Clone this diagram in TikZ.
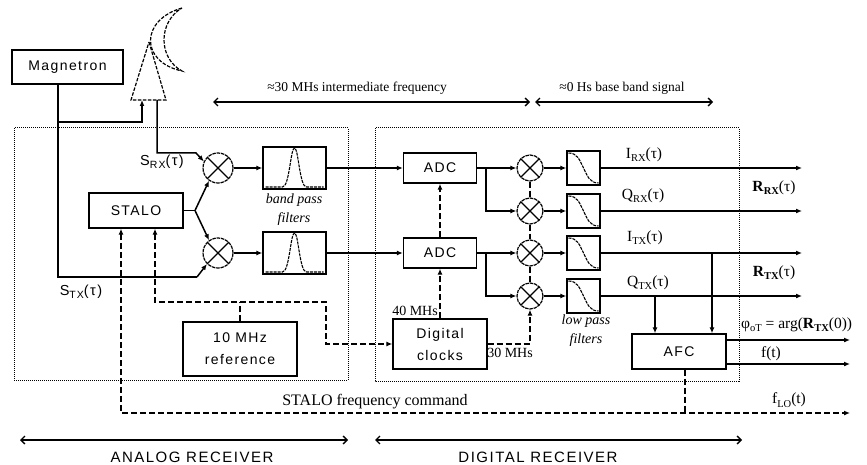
\documentclass[tikz,border=0pt]{standalone}
\usepackage{fontspec}
\setmainfont{Liberation Serif}
\newfontfamily\sansf[LetterSpace=10]{Liberation Sans}
\usetikzlibrary{arrows.meta}
\newcommand\sub[1]{\raisebox{-0.45ex}{\fontsize{10.5}{10.5}\selectfont #1}}
\begin{document}
\begin{tikzpicture}[x=1pt,y=-1pt,
  sig/.style={line width=1.5pt},
  arr/.style={-{Latex[length=6pt,width=5pt]}},
  arrboth/.style={{Latex[length=6pt,width=5pt]}-{Latex[length=6pt,width=5pt]}},
  dsh/.style={line width=1.4pt, dash pattern=on 6pt off 3pt},
  dotframe/.style={line width=1pt, dash pattern=on 1pt off 1pt},
  blk/.style={draw, line width=1.4pt, inner sep=0pt, font=\sansf\fontsize{14}{22}\selectfont, align=center},
  mixer/.style={circle, draw, line width=1.2pt, dash pattern=on 3.5pt off 0.8pt, inner sep=0pt, minimum size=#1,
    path picture={\draw[solid,line width=1.1pt] (path picture bounding box.north west) -- (path picture bounding box.south east)
      (path picture bounding box.north east) -- (path picture bounding box.south west);}},
  fcurve/.style={line width=1.1pt, dash pattern=on 3pt off 1pt},
  ser/.style={font=\fontsize{15.5}{15.5}\selectfont, inner sep=0pt},
  sml/.style={font=\fontsize{13.5}{13.5}\selectfont, inner sep=0pt},
  ital/.style={font=\itshape\fontsize{14}{19}\selectfont, inner sep=0pt, align=center},
  sanslab/.style={font=\sansf\fontsize{14.5}{14.5}\selectfont, inner sep=0pt},
  rangearrow/.style={line width=1.4pt, {Straight Barb[length=4pt,width=8pt]}-{Straight Barb[length=4pt,width=8pt]}},
]
\useasboundingbox (0,0) rectangle (867,465);

% frames
\draw[dotframe] (14,128) rectangle (348,380);
\draw[dotframe] (375,128) rectangle (739,381);

% blocks
\node[blk, minimum width=111pt, minimum height=34pt] (mag) at (67.5,67) {Magnetron};
\node[blk, minimum width=94pt, minimum height=35pt] (stalo) at (136,210.5) {STALO};
\node[mixer=30pt] (mx1) at (218,168) {};
\node[mixer=30pt] (mx2) at (218,253) {};
\node[blk, minimum width=63pt, minimum height=42pt] (bp1) at (294.5,168) {};
\node[blk, minimum width=63pt, minimum height=42pt] (bp2) at (294.5,253) {};
\node[blk, minimum width=73pt, minimum height=30pt] (adc1) at (440,168) {ADC};
\node[blk, minimum width=73pt, minimum height=30pt] (adc2) at (440,253) {ADC};
\node[mixer=26pt] (dm1) at (530,168) {};
\node[mixer=26pt] (dm2) at (530,211) {};
\node[mixer=26pt] (dm3) at (530,253) {};
\node[mixer=26pt] (dm4) at (530,296) {};
\node[blk, minimum width=33pt, minimum height=34pt] (lp1) at (583.5,168) {};
\node[blk, minimum width=33pt, minimum height=34pt] (lp2) at (583.5,211) {};
\node[blk, minimum width=33pt, minimum height=34pt] (lp3) at (583.5,253) {};
\node[blk, minimum width=33pt, minimum height=34pt] (lp4) at (583.5,296) {};
\node[blk, minimum width=94pt, minimum height=50pt] (clk) at (440,344) {Digital\\clocks};
\node[blk, minimum width=114pt, minimum height=54pt] (ref) at (240,349) {10 MHz\\reference};
\node[blk, minimum width=94pt, minimum height=35pt] (afc) at (679,351.5) {AFC};

% filter curves
\foreach \b in {bp1,bp2}{
  \draw[fcurve, shift={(\b.center)}] (-29,19) -- (-12,19) .. controls (-5,19) and (-4,-20) .. (0,-20)
    .. controls (4,-20) and (5,19) .. (12,19) -- (29,19);
}
\foreach \b in {lp1,lp2,lp3,lp4}{
  \draw[fcurve, shift={(\b.center)}] (-15,-15) .. controls (-6,-15) and (-4,-8) .. (0,0)
    .. controls (4,8) and (6,15) .. (15,15);
}

% antenna
\draw[line width=1.2pt, dash pattern=on 3.5pt off 1.5pt] (149,42) -- (166,100) -- (131,100) -- cycle;
\draw[line width=1.2pt, dash pattern=on 3.5pt off 1.5pt] (182,8) .. controls (140,20) and (140,62) .. (182,71)
  .. controls (158,58) and (158,22) .. (182,8);
\coordinate (antb1) at (142,100);
\coordinate (antb2) at (157,100);

% magnetron connections
\coordinate (magb) at ([xshift=-9.5pt]mag.south);
\coordinate (j1) at (58,122);
\coordinate (j2) at (142,122);
\coordinate (c1) at (58,277);
\coordinate (c2) at (197,277);
\draw[sig] (magb) -- (c1) -- (c2);
\draw[sig,arr] (c2) -- (mx2.225);
\draw[sig,arr] (j1) -- (j2) -- (antb1);
\coordinate (a1) at (157,153);
\coordinate (a2) at (196,153);
\draw[sig,arr] (antb2) -- (a1) -- (a2) -- (mx1.155);

% stalo fork
\coordinate (fk) at (195,210.5);
\draw[sig] (stalo.east) -- (fk);
\draw[sig,arr] (fk) -- (mx1.235);
\draw[sig,arr] (fk) -- (mx2.125);

% analog chain
\draw[sig,arr] (mx1.east) -- (bp1.west);
\draw[sig,arr] (mx2.east) -- (bp2.west);
\draw[sig,arr] (bp1.east) -- (adc1.west);
\draw[sig,arr] (bp2.east) -- (adc2.west);

% digital chain
\coordinate (b1) at (486,168);
\coordinate (b2) at (486,211);
\coordinate (b3) at (486,253);
\coordinate (b4) at (486,296);
\draw[sig,arr] (adc1.east) -- (dm1.west);
\draw[sig,arr] (b1) -- (b2) -- (dm2.west);
\draw[sig,arr] (adc2.east) -- (dm3.west);
\draw[sig,arr] (b3) -- (b4) -- (dm4.west);
\draw[sig,arr] (dm1.east) -- (lp1.west);
\draw[sig,arr] (dm2.east) -- (lp2.west);
\draw[sig,arr] (dm3.east) -- (lp3.west);
\draw[sig,arr] (dm4.east) -- (lp4.west);
\coordinate (o1) at (802,168);
\coordinate (o2) at (802,211);
\coordinate (o3) at (802,253);
\coordinate (o4) at (802,296);
\draw[sig,arr] (lp1.east) -- (o1);
\draw[sig,arr] (lp2.east) -- (o2);
\draw[sig,arr] (lp3.east) -- (o3);
\draw[sig,arr] (lp4.east) -- (o4);
\coordinate (t1) at (712,253);
\coordinate (t2) at (655,296);
\draw[sig,arr] (t1) -- (t1 |- afc.north);
\draw[sig,arr] (t2) -- (t2 |- afc.north);
\coordinate (p1) at (850,340);
\coordinate (p2) at (850,364);
\draw[sig,arr] (afc.east |- p1) -- (p1);
\draw[sig,arr] (afc.east |- p2) -- (p2);

% dashed control lines
\coordinate (sa) at ([xshift=-15pt]stalo.south);
\coordinate (sb) at ([xshift=19pt]stalo.south);
\coordinate (d1) at (121,413);
\coordinate (d2) at (850,413);
\draw[dsh,arrboth] (sa) -- (d1) -- (d2);
\coordinate (d3) at (155,302);
\coordinate (d4) at (326,302);
\coordinate (d5) at (326,344);
\draw[dsh,arrboth] (sb) -- (d3) -- (d4) -- (d5) -- (clk.west);
\draw[dsh] (ref.north) -- (ref.north |- d3);
\coordinate (af) at ([xshift=6pt]afc.south);
\draw[dsh] (af) -- (af |- d1);
\draw[dsh,arr] (clk.north) -- (adc2.south);
\draw[dsh,arr] (adc2.north) -- (adc1.south);
\coordinate (e1) at (530,344);
\draw[dsh,arr] (clk.east) -- (e1) -- (dm4.south);
\draw[dsh] (dm1.south) -- (dm2.north);
\draw[dsh] (dm2.south) -- (dm3.north);
\draw[dsh] (dm3.south) -- (dm4.north);

% range arrows
\coordinate (r1a) at (213,102); \coordinate (r1b) at (530,102);
\coordinate (r2a) at (535,102); \coordinate (r2b) at (713,102);
\coordinate (r3a) at (20,440);  \coordinate (r3b) at (348,440);
\coordinate (r4a) at (375,440); \coordinate (r4b) at (742,440);
\draw[rangearrow] (r1a) -- (r1b);
\draw[rangearrow] (r2a) -- (r2b);
\draw[rangearrow] (r3a) -- (r3b);
\draw[rangearrow] (r4a) -- (r4b);

% labels
\node[sml] (lif) at (357,88) {≈30 MHs intermediate frequency};
\node[sml] (lbb) at (622,88) {≈0 Hs base band signal};
\node[sanslab] (lsrx) at (162,162) {S\sub{RX}(τ)};
\node[sanslab] (lstx) at (81,292) {S\sub{TX}(τ)};
\node[ital] (lbp) at (294,210) {band pass\\filters};
\node[ital] (llp) at (586,331) {low pass\\filters};
\node[ser] (lirx) at (644,155) {I\sub{RX}(τ)};
\node[ser] (lqrx) at (643,196) {Q\sub{RX}(τ)};
\node[ser] (litx) at (645,238) {I\sub{TX}(τ)};
\node[ser] (lqtx) at (648,283) {Q\sub{TX}(τ)};
\node[ser] (lrrx) at (774,188) {\textbf{R}\sub{\textbf{RX}}(τ)};
\node[ser] (lrtx) at (774,273) {\textbf{R}\sub{\textbf{TX}}(τ)};
\node[ser, anchor=west] (lphi) at (741,325) {φ\sub{oT} = arg(\textbf{R}\sub{\textbf{TX}}(0))};
\node[ser] (lft) at (771,354) {f(t)};
\node[ser] (lflo) at (789,400) {f\sub{LO}(t)};
\node[font=\fontsize{16}{16}\selectfont, inner sep=0pt] (lcmd) at (375,402) {STALO frequency command};
\node[font=\fontsize{14}{14}\selectfont, inner sep=0pt] (l40) at (415,311) {40 MHs};
\node[font=\fontsize{14}{14}\selectfont, inner sep=0pt] (l30) at (510,353) {30 MHs};
\node[font=\sansf\fontsize{15}{15}\selectfont, inner sep=0pt] (lan) at (192,457) {ANALOG RECEIVER};
\node[font=\sansf\fontsize{15}{15}\selectfont, inner sep=0pt] (ldg) at (538,457) {DIGITAL RECEIVER};
\end{tikzpicture}
\end{document}
